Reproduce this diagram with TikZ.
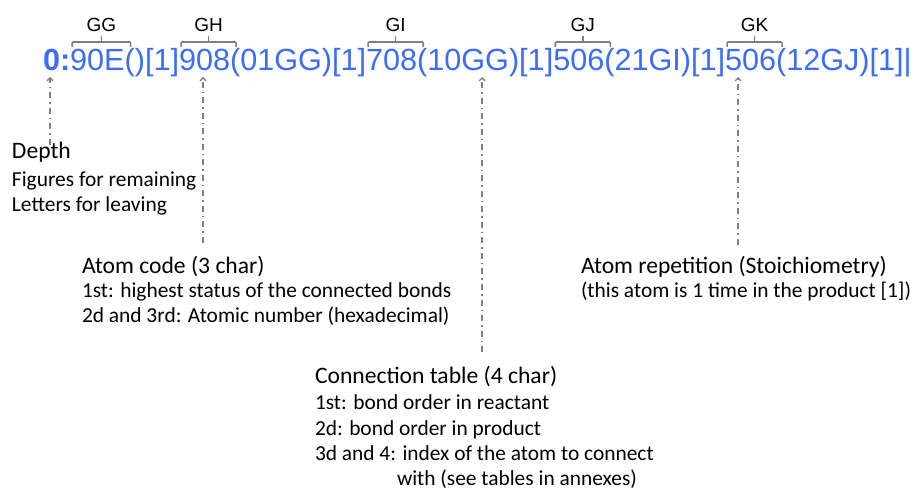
\documentclass[tikz,border=0pt]{standalone}
\usepackage{fontspec}
\setmainfont{Carlito}
\newfontfamily\codefont{Liberation Sans}
\usetikzlibrary{arrows.meta,calc}
\definecolor{codeblue}{RGB}{59,108,250}
\definecolor{annogray}{RGB}{128,128,128}
\tikzset{
  code/.style={inner sep=0pt, outer sep=0pt, anchor=base west, text=codeblue,
    font=\codefont\fontsize{30.6}{36}\selectfont},
  brace/.style={draw=annogray, line width=1.6pt, rounded corners=1pt},
  blabel/.style={font=\codefont\fontsize{19}{22}\selectfont, text=black, inner sep=0pt, anchor=base},
  pointer/.style={draw=annogray, line width=1.3pt,
    dash pattern=on 6pt off 4pt on 1.5pt off 4pt,
    -{Straight Barb[length=3pt,width=6pt]}},
  head/.style={font=\fontsize{23.6}{28}\selectfont, inner sep=0pt, outer sep=0pt, anchor=base west},
  sub/.style={font=\fontsize{21.4}{25}\selectfont, inner sep=0pt, outer sep=0pt, anchor=base west},
}
\newcommand{\atombrace}[2]{%
  \draw[brace] ([shift={(2,-24)}]#1.base west) -- ([shift={(2,-29)}]#1.base west)
    -- ([shift={(6,-29)}]#1.base east) -- ([shift={(6,-24)}]#1.base east);
  \draw[brace] ($(#1.base west)!0.5!(#1.base east)+(4,-29)$) -- ++(0,-6);
  \node[blabel] (lab#2) at ($(#1.base west)!0.5!(#1.base east)+(4,-39)$) {#2};
}
\begin{document}
\begin{tikzpicture}[x=1pt,y=-1pt]
\useasboundingbox (0,0) rectangle (916,489);
% code string
\node[code] (s0) at (43,71) {\bfseries 0:};
\node[code] (s1) at (s0.base east) {90E};
\node[code] (s2) at (s1.base east) {()[1]};
\node[code] (s3) at (s2.base east) {908};
\node[code] (s4) at (s3.base east) {(01GG)[1]};
\node[code] (s5) at (s4.base east) {708};
\node[code] (s6) at (s5.base east) {(10GG)[1]};
\node[code] (s7) at (s6.base east) {506};
\node[code] (s8) at (s7.base east) {(21GI)[1]};
\node[code] (s9) at (s8.base east) {506};
\node[code] (s10) at (s9.base east) {(12GJ)[1]|};
% braces
\atombrace{s1}{GG}
\atombrace{s3}{GH}
\atombrace{s5}{GI}
\atombrace{s7}{GJ}
\atombrace{s9}{GK}
% annotations
\node[head] (depth) at (12,159) {Depth};
\node[sub] (depth1) at (12,187) {Figures for remaining};
\node[sub] (depth2) at (12,212) {Letters for leaving};
\node[head] (acode) at (82,273) {Atom code (3 char)};
\node[sub] (acode1) at (82,298) {1st: highest status of the connected bonds};
\node[sub] (acode2) at (82,322) {2d and 3rd: Atomic number (hexadecimal)};
\node[head] (ctab) at (315,383) {Connection table (4 char)};
\node[sub] (ctab1) at (315,409) {1st: bond order in reactant};
\node[sub] (ctab2) at (315,435) {2d: bond order in product};
\node[sub] (ctab3) at (315,460) {3d and 4: index of the atom to connect};
\node[sub] (ctab4) at (397,485) {with (see tables in annexes)};
\node[head] (arep) at (581,273) {Atom repetition (Stoichiometry)};
\node[sub] (arep1) at (581,298) {(this atom is 1 time in the product [1])};
% pointers
\coordinate (p1) at (50,145);  \coordinate (t1) at (50,77);
\coordinate (p2) at (203,243); \coordinate (t2) at (203,77);
\coordinate (p3) at (482,352); \coordinate (t3) at (482,77);
\coordinate (p4) at (738,245); \coordinate (t4) at (738,77);
\draw[pointer] (p1) -- (t1);
\draw[pointer] (p2) -- (t2);
\draw[pointer] (p3) -- (t3);
\draw[pointer] (p4) -- (t4);
\end{tikzpicture}
\end{document}
